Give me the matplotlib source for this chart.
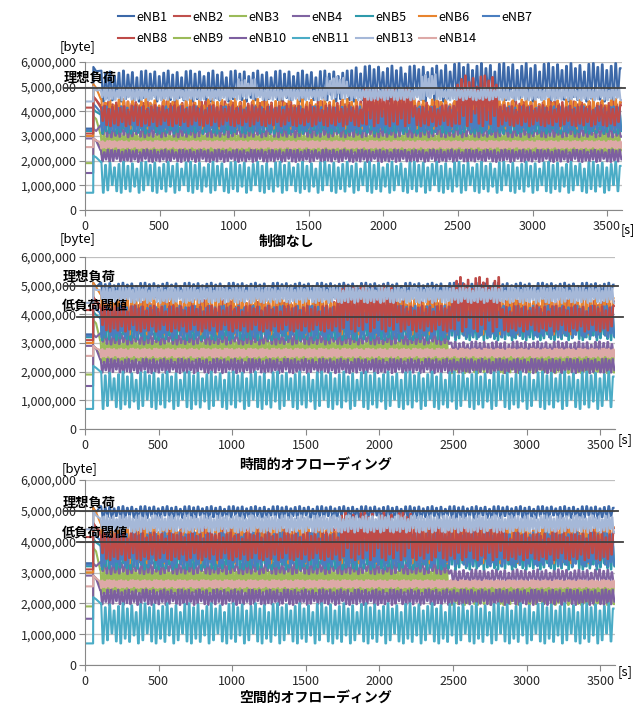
import numpy as np
import matplotlib.pyplot as plt
from matplotlib.ticker import FuncFormatter

plt.rcParams['font.family'] = ['Noto Sans CJK JP', 'DejaVu Sans']

W, H = 634, 709

names = ['eNB1', 'eNB2', 'eNB3', 'eNB4', 'eNB5', 'eNB6', 'eNB7',
         'eNB8', 'eNB9', 'eNB10', 'eNB11', 'eNB13', 'eNB14']
colors = ['#3C68A8', '#C0504D', '#9BBB59', '#8064A2', '#2E9AAB', '#E8842E', '#4A7EC0',
          '#BE4B48', '#9BBB59', '#7D5FA0', '#4BACC6', '#A5B8D8', '#DDA9A7']

# 値は 10^6 byte 単位
T_JUMP = 55
T_END = 3600
init_val = [3.3, 4.15, 3.0, 2.9, 3.2, 3.0, 3.25, 3.1, 1.9, 1.5, 0.7, 4.4, 2.55]
start_peak = [5.8, 4.6, 3.8, 3.3, 4.1, 5.1, 4.3, 4.6, 2.9, 2.9, 2.2, 5.0, 2.9]
period = [30, 26, 22, 28, 24, 30, 20, 26, 18, 24, 30, 22, 16]
peak_mix = [1.0, 0.9, 0.97, 0.82, 0.93, 1.0, 0.87, 0.95, 0.78, 0.98]
trough_mix = [0.0, 0.12, 0.04, 0.2, 0.0, 0.08, 0.25, 0.05]

# 制御なし
lo_1 = [4.4, 3.5, 2.4, 2.95, 3.1, 3.3, 3.2, 3.4, 2.25, 1.95, 0.7, 4.45, 2.5]
hi_1 = [5.65, 4.4, 3.2, 3.45, 3.9, 4.5, 4.2, 4.25, 2.6, 2.45, 1.95, 4.95, 2.8]
ev_1 = [('eNB1', 1750, 2400, 4.4, 5.85), ('eNB1', 2400, 3600, 4.4, 5.95),
        ('eNB13', 1000, 1150, 4.5, 5.3), ('eNB13', 1600, 1750, 4.5, 5.4),
        ('eNB13', 2250, 2350, 4.5, 5.5),
        ('eNB8', 1860, 2180, 3.4, 4.95), ('eNB8', 2470, 2770, 3.4, 5.45)]

# 時間的オフローディング
lo_2 = [4.6, 3.5, 2.4, 2.95, 3.1, 3.3, 3.2, 3.4, 2.3, 1.95, 0.7, 4.4, 2.5]
hi_2 = [5.1, 4.5, 3.2, 3.35, 3.9, 4.7, 4.3, 4.3, 2.6, 2.45, 2.0, 4.95, 2.8]
ev_2 = [('eNB8', 1700, 2100, 3.4, 5.0), ('eNB8', 2480, 2800, 3.4, 5.3),
        ('eNB3', 2450, 3600, 1.95, 2.6), ('eNB4', 2450, 3600, 2.55, 3.05)]

# 空間的オフローディング
lo_3 = [4.75, 3.5, 2.4, 2.95, 3.1, 3.3, 3.2, 3.4, 2.3, 1.95, 0.7, 4.3, 2.5]
hi_3 = [5.15, 4.5, 3.2, 3.35, 3.9, 4.6, 4.3, 4.3, 2.6, 2.45, 2.0, 4.85, 2.75]
ev_3 = [('eNB8', 1730, 2210, 3.4, 4.95), ('eNB8', 2210, 2850, 3.4, 4.6),
        ('eNB3', 2450, 3600, 1.95, 2.6), ('eNB4', 2450, 3600, 2.6, 3.1)]

ideal = [4.95, 5.0, 5.0]
low_th = [None, 3.9, 4.0]
titles = ['制御なし', '時間的オフローディング', '空間的オフローディング']


def build(i, lo, hi, events, peak0):
    tt = [0, T_JUMP, T_JUMP + 1, T_JUMP + 20]
    yy = [init_val[i], init_val[i], peak0, peak0 * 0.97]
    per = period[i]
    t = T_JUMP + 40
    k = 0
    while t < T_END:
        a, b = lo[i], hi[i]
        for (n, t0, t1, elo, ehi) in events:
            if n == names[i] and t0 <= t < t1:
                a, b = elo, ehi
        vh = a + (b - a) * peak_mix[(k + 3 * i) % len(peak_mix)]
        vl = a + (b - a) * trough_mix[(k + 2 * i) % len(trough_mix)]
        # 上昇→上端→下降→下端
        tt += [t + 0.35 * per, t + 0.5 * per, t + 0.85 * per, t + per]
        yy += [vh, vh, vl, vl]
        t += per
        k += 1
    tt = np.array(tt)
    yy = np.array(yy)
    keep = tt <= T_END
    return tt[keep], yy[keep] * 1e6


def px(x, y):
    return x / W, 1 - y / H


fig = plt.figure(figsize=(W / 100, H / 100), dpi=100)

# [left, top, right, bottom] in pixels
boxes = [(85, 62, 622, 210), (85, 257, 615, 429), (85, 480, 615, 665)]
panels = [(lo_1, hi_1, ev_1), (lo_2, hi_2, ev_2), (lo_3, hi_3, ev_3)]

handles = []
for p, (box, (lo, hi, ev)) in enumerate(zip(boxes, panels)):
    l, t, r, b = box
    ax = fig.add_axes([l / W, 1 - b / H, (r - l) / W, (b - t) / H])
    for i in range(len(names)):
        pk = start_peak[i]
        if i == 0 and p > 0:
            pk = 5.1
        x, y = build(i, lo, hi, ev, pk)
        ln, = ax.plot(x, y, color=colors[i], lw=1.5, label=names[i])
        if p == 0:
            handles.append(ln)
    ax.set_xlim(0, 3600)
    ax.set_ylim(0, 6e6)
    ax.set_xticks(np.arange(0, 3600, 500))
    ax.set_yticks(np.arange(0, 6000001, 1000000))
    ax.yaxis.set_major_formatter(FuncFormatter(lambda v, pos: f'{int(v):,}'))
    ax.grid(axis='y', color='#BFBFBF', lw=0.9)
    ax.set_axisbelow(True)
    for s in ['top', 'right']:
        ax.spines[s].set_visible(False)
    for s in ['left', 'bottom']:
        ax.spines[s].set_color('#888888')
    ax.tick_params(length=4, color='#888888', labelsize=9, labelcolor='#262626', pad=2)
    ax.tick_params(axis='x', pad=3)

    ax.axhline(ideal[p] * 1e6, xmin=-0.04, xmax=1.005, color='#404040', lw=1.3, clip_on=False, zorder=5)
    if low_th[p] is not None:
        ax.axhline(low_th[p] * 1e6, xmin=-0.015, xmax=1.015, color='#404040', lw=1.3, clip_on=False, zorder=5)

# 注記テキスト
fig.text(*px(78, 48), '[byte]', ha='center', va='center', fontsize=9.5)
fig.text(*px(90, 78), '理想負荷', ha='center', va='center', fontsize=9.5, fontweight='bold')
fig.text(*px(286, 242), titles[0], ha='center', va='center', fontsize=10, fontweight='bold')
fig.text(*px(628, 230), '[s]', ha='center', va='center', fontsize=9)

fig.text(*px(78, 240), '[byte]', ha='center', va='center', fontsize=9.5)
fig.text(*px(89, 277), '理想負荷', ha='center', va='center', fontsize=9.5, fontweight='bold')
fig.text(*px(95, 306), '低負荷閾値', ha='center', va='center', fontsize=9.5, fontweight='bold')
fig.text(*px(315, 465), titles[1], ha='center', va='center', fontsize=10, fontweight='bold')
fig.text(*px(625, 440), '[s]', ha='center', va='center', fontsize=9.5)

fig.text(*px(80, 470), '[byte]', ha='center', va='center', fontsize=9.5)
fig.text(*px(89, 503), '理想負荷', ha='center', va='center', fontsize=9.5, fontweight='bold')
fig.text(*px(95, 533), '低負荷閾値', ha='center', va='center', fontsize=9.5, fontweight='bold')
fig.text(*px(315, 698), titles[2], ha='center', va='center', fontsize=10, fontweight='bold')
fig.text(*px(625, 672), '[s]', ha='center', va='center', fontsize=9.5)

# 凡例: 2行7列 (行優先に並べ替え)
order = [0, 7, 1, 8, 2, 9, 3, 10, 4, 11, 5, 12, 6]
fig.legend([handles[k] for k in order], [names[k] for k in order],
           loc='upper center', bbox_to_anchor=(325 / W, 1 - 2 / H), ncol=7,
           frameon=False, fontsize=9, handlelength=1.3, handletextpad=0.2,
           columnspacing=0.5, labelspacing=0.65, borderpad=0.2)

fig.savefig('out.png', dpi=100)
